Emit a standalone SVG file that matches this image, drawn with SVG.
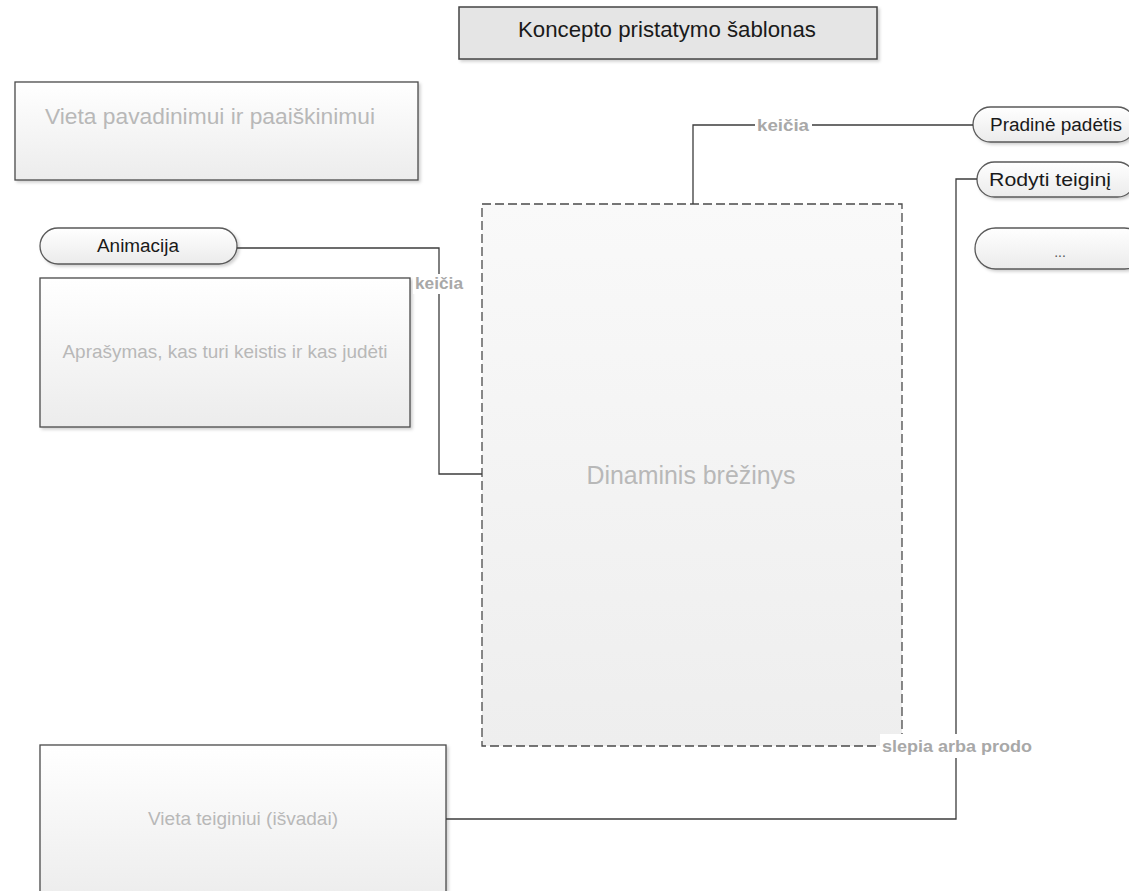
<svg xmlns="http://www.w3.org/2000/svg" width="1129" height="891" viewBox="0 0 1129 891">
<defs>
<linearGradient id="gBox" x1="0" y1="0" x2="0" y2="1">
<stop offset="0" stop-color="#ffffff"/>
<stop offset="1" stop-color="#ececec"/>
</linearGradient>
<linearGradient id="gDyn" x1="0" y1="0" x2="0" y2="1">
<stop offset="0" stop-color="#f9f9f9"/>
<stop offset="1" stop-color="#eeeeee"/>
</linearGradient>
<linearGradient id="gPill" x1="0" y1="0" x2="0" y2="1">
<stop offset="0" stop-color="#ffffff"/>
<stop offset="1" stop-color="#ebebeb"/>
</linearGradient>
<filter id="sh" x="-5%" y="-5%" width="115%" height="120%">
<feDropShadow dx="2" dy="2" stdDeviation="1.5" flood-color="#000" flood-opacity="0.18"/>
</filter>
</defs>
<style>
.box{fill:url(#gBox);stroke:#4a4a4a;stroke-width:1.3;filter:url(#sh)}
.pill{fill:url(#gPill);stroke:#5a5a5a;stroke-width:1.3;filter:url(#sh)}
.dyn{fill:url(#gDyn);stroke:#4a4a4a;stroke-width:1.3;stroke-dasharray:9,4}
.ph{font-family:"Liberation Sans",Arial,sans-serif;fill:#b8b8b8;text-anchor:middle}
.dark{font-family:"Liberation Sans",Arial,sans-serif;fill:#1a1a1a;text-anchor:middle}
.conn{fill:none;stroke:#3c3c3c;stroke-width:1.3}
.lbl{font-family:"Liberation Sans",Arial,sans-serif;font-weight:bold;fill:#a8a8a8;text-anchor:middle}
.lblbg{fill:#ffffff}
</style>
<rect width="1129" height="891" fill="#ffffff"/>

<g id="title">
<rect x="459" y="7" width="418" height="52" fill="#e5e5e5" stroke="#444" stroke-width="1.5" filter="url(#sh)"/>
<text class="dark" x="667" y="37" font-size="22" textLength="298" lengthAdjust="spacingAndGlyphs">Koncepto pristatymo šablonas</text>
</g>

<g id="vieta-pavadinimui">
<rect class="box" x="15" y="82" width="403" height="98"/>
<text class="ph" x="210" y="124" font-size="22" textLength="330" lengthAdjust="spacingAndGlyphs">Vieta pavadinimui ir paaiškinimui</text>
</g>

<g id="animacija">
<rect class="pill" x="40" y="228" width="197" height="36" rx="18" ry="18"/>
<text class="dark" x="138" y="252" font-size="18" textLength="82" lengthAdjust="spacingAndGlyphs">Animacija</text>
</g>

<g id="aprasymas">
<rect class="box" x="40" y="278" width="370" height="149"/>
<text class="ph" x="225" y="358" font-size="19" textLength="325" lengthAdjust="spacingAndGlyphs">Aprašymas, kas turi keistis ir kas judėti</text>
</g>

<g id="dinaminis">
<rect class="dyn" x="482" y="204" width="420" height="542"/>
<text class="ph" x="691" y="484" font-size="25" textLength="209" lengthAdjust="spacingAndGlyphs">Dinaminis brėžinys</text>
</g>

<g id="pradine-padetis">
<rect class="pill" x="973" y="107" width="162" height="35" rx="17.5" ry="17.5"/>
<text class="dark" x="1056" y="131" font-size="18" textLength="132" lengthAdjust="spacingAndGlyphs">Pradinė padėtis</text>
</g>

<g id="rodyti-teigini">
<rect class="pill" x="977" y="162" width="158" height="35" rx="17.5" ry="17.5"/>
<text class="dark" x="1050" y="186" font-size="18" textLength="122" lengthAdjust="spacingAndGlyphs">Rodyti teiginį</text>
</g>

<g id="daugiau">
<rect class="pill" x="975" y="228" width="170" height="41" rx="20.5" ry="20.5"/>
<text class="dark" x="1060" y="257" font-size="14" style="fill:#555">...</text>
</g>

<g id="vieta-teiginiui">
<rect class="box" x="40" y="745" width="406" height="160"/>
<text class="ph" x="243" y="825" font-size="19" textLength="190" lengthAdjust="spacingAndGlyphs">Vieta teiginiui (išvadai)</text>
</g>

<g id="connectors">
<path class="conn" d="M973,125 H693 V204"/>
<rect class="lblbg" x="755" y="115" width="57" height="20"/>
<text class="lbl" x="783" y="131" font-size="16" textLength="52" lengthAdjust="spacingAndGlyphs">keičia</text>

<path class="conn" d="M237,248 H439 V474 H482"/>
<rect class="lblbg" x="413" y="274" width="52" height="20"/>
<text class="lbl" x="439" y="289" font-size="16" textLength="48" lengthAdjust="spacingAndGlyphs">keičia</text>

<path class="conn" d="M446,819 H956 V179 H977"/>
<rect class="lblbg" x="880" y="734" width="154" height="24"/>
<text class="lbl" x="957" y="752" font-size="17" textLength="150" lengthAdjust="spacingAndGlyphs">slepia arba prodo</text>
</g>
</svg>
